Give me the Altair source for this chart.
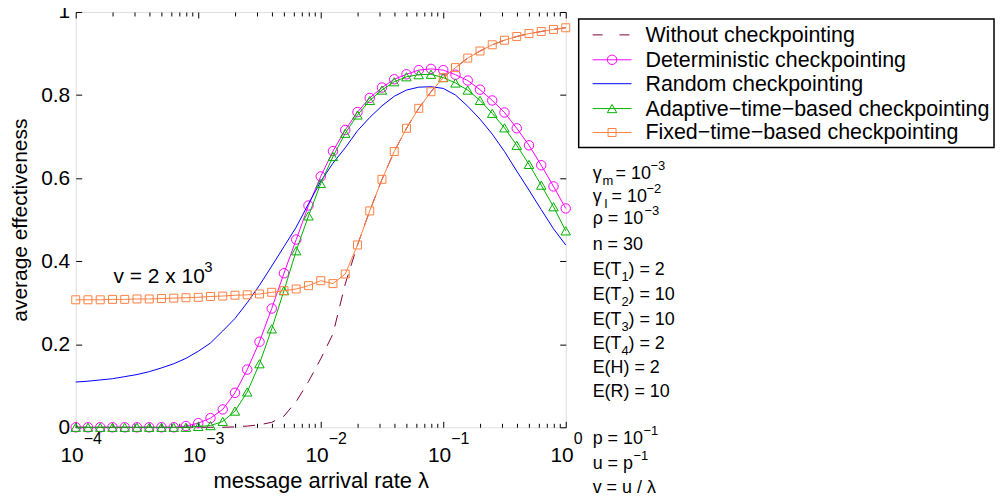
import altair as alt
import numpy as np
import pandas as pd

# ---------------- data ----------------
lam = np.logspace(-4, 0, 41)  # message arrival rate, 10 samples per decade

without = [0, 0, 0, 0, 0, 0, 0, 0, 0, 0, 0, 0, 0,
           0.001, 0.003, 0.006, 0.012, 0.027, 0.062, 0.110, 0.165, 0.225, 0.345,
           0.439, 0.521, 0.597, 0.664, 0.720, 0.768, 0.808, 0.842, 0.866, 0.889,
           0.906, 0.921, 0.932, 0.941, 0.948, 0.953, 0.958, 0.962]
deterministic = [0, 0, 0, 0, 0, 0, 0, 0, 0,
                 0.003, 0.010, 0.022, 0.043, 0.083, 0.139, 0.206, 0.286, 0.371, 0.452,
                 0.534, 0.604, 0.665, 0.716, 0.759, 0.793, 0.818, 0.838, 0.850, 0.860,
                 0.863, 0.860, 0.849, 0.835, 0.813, 0.787, 0.758, 0.720, 0.679, 0.631,
                 0.580, 0.527]
random_cp = [0.109, 0.111, 0.114, 0.117, 0.122, 0.127, 0.134, 0.143, 0.153, 0.166,
             0.183, 0.203, 0.232, 0.262, 0.300, 0.342, 0.388, 0.435, 0.482, 0.538,
             0.592, 0.636, 0.673, 0.714, 0.746, 0.774, 0.797, 0.812, 0.819, 0.820,
             0.816, 0.800, 0.773, 0.742, 0.706, 0.664, 0.617, 0.571, 0.524, 0.478,
             0.439]
adaptive = [0, 0, 0, 0, 0, 0, 0, 0, 0, 0, 0.002,
            0.004, 0.014, 0.039, 0.085, 0.153, 0.237, 0.329, 0.425, 0.509, 0.587,
            0.652, 0.708, 0.752, 0.787, 0.812, 0.832, 0.844, 0.849, 0.850, 0.842,
            0.829, 0.812, 0.787, 0.756, 0.721, 0.679, 0.633, 0.583, 0.531, 0.473]
fixed = [0.307, 0.307, 0.307, 0.308, 0.308, 0.309, 0.309, 0.310, 0.311, 0.312,
         0.313, 0.315, 0.316, 0.318, 0.319, 0.321, 0.325, 0.329, 0.333, 0.341,
         0.353, 0.346, 0.369, 0.439, 0.521, 0.597, 0.664, 0.720, 0.768, 0.808,
         0.842, 0.866, 0.889, 0.906, 0.921, 0.932, 0.941, 0.948, 0.953, 0.958,
         0.962]

series_names = ["Without checkpointing", "Deterministic checkpointing",
                "Random checkpointing", "Adaptive\u2212time\u2212based checkpointing",
                "Fixed\u2212time\u2212based checkpointing"]
series_vals = [without, deterministic, random_cp, adaptive, fixed]
series_colors = ["#800040", "#ff00ff", "#0000ff", "#00b000", "#ff8040"]
series_shapes = [None, "circle", None, "triangle-up", "square"]
series_sizes = [0, 90, 0, 90, 64]

decades = [1e-4, 1e-3, 1e-2, 1e-1, 1.0]
decade_exp = ["\u22124", "\u22123", "\u22122", "\u22121", "0"]
minor = [k * 10.0 ** d for d in range(-4, 0) for k in range(2, 10)]
y_ticks = [0, 0.2, 0.4, 0.6, 0.8, 1.0]

FONT = "Liberation Sans"
W, H = 492, 417
OX, OY = 76, 11  # plot origin in page pixels (used for decorations only)
TOTAL_W, TOTAL_H = 992, 492

# ---------------- scales ----------------
xs = alt.Scale(type="log", domain=[1e-4, 1], nice=False)
ys = alt.Scale(domain=[0, 1], nice=False, zero=False)

def ser_df(i):
    return pd.DataFrame({"lam": lam, "val": series_vals[i]})

base_df = ser_df(1)

def axis_layer(xaxis, yaxis):
    return alt.Chart(base_df).mark_point(opacity=0).encode(
        x=alt.X("lam:Q", scale=xs, axis=xaxis),
        y=alt.Y("val:Q", scale=ys, axis=yaxis),
    )

common = dict(domain=False, grid=False, tickColor="black", tickWidth=1)

ax_a = axis_layer(
    alt.Axis(orient="bottom", values=decades, tickSize=6, offset=-6, labels=False,
             title="message arrival rate \u03bb", titleFontSize=22, titleFontWeight="normal",
             titleFont=FONT, titleColor="black", titleX=W / 2, titleY=66,
             titleAlign="center", titleBaseline="alphabetic", **common),
    alt.Axis(orient="left", values=y_ticks, format="~g", tickSize=6, offset=-6,
             labelPadding=6, labelFontSize=21, labelFont=FONT, labelColor="black",
             labelFlush=False, labelOverlap=False,
             title="average effectiveness", titleFontSize=21, titleFontWeight="normal",
             titleFont=FONT, titleColor="black", titleX=-55, titleY=H / 2,
             titleAngle=270, titleAlign="center", titleBaseline="alphabetic", **common),
)
ax_b = axis_layer(
    alt.Axis(orient="bottom", values=minor, tickSize=4, offset=-4, labels=False,
             title=None, **common),
    alt.Axis(orient="right", values=y_ticks, tickSize=6, offset=-6, labels=False,
             title=None, **common),
)
ax_c = axis_layer(
    alt.Axis(orient="top", values=decades, tickSize=6, offset=-6, labels=False,
             title=None, **common),
    None,
)
ax_d = axis_layer(
    alt.Axis(orient="top", values=minor, tickSize=4, offset=-4, labels=False,
             title=None, **common),
    None,
)

# ---------------- data layers ----------------
layers = [ax_a, ax_b, ax_c, ax_d]
for i in range(5):
    d = ser_df(i)
    enc = dict(x=alt.X("lam:Q", scale=xs, axis=None), y=alt.Y("val:Q", scale=ys, axis=None))
    line_kw = dict(color=series_colors[i], strokeWidth=1)
    if i == 0:
        line_kw["strokeDash"] = [12, 9]
    layers.append(alt.Chart(d).mark_line(**line_kw).encode(**enc))
    if series_shapes[i]:
        layers.append(alt.Chart(d).mark_point(shape=series_shapes[i], filled=False,
                                              size=series_sizes[i], color=series_colors[i],
                                              strokeWidth=1, opacity=1).encode(**enc))

# ---------------- x tick labels 10^k ----------------
tick_df = pd.DataFrame({"lt": decades, "base": ["10"] * 5, "ex": decade_exp})
layers.append(alt.Chart(tick_df).mark_text(align="right", baseline="alphabetic", dx=8, dy=35,
                                           fontSize=21, font=FONT, color="black").encode(
    x=alt.X("lt:Q", scale=xs, axis=None), y=alt.value(H), text="base:N"))
layers.append(alt.Chart(tick_df).mark_text(align="left", baseline="alphabetic", dx=8, dy=17,
                                           fontSize=16, font=FONT, color="black").encode(
    x=alt.X("lt:Q", scale=xs, axis=None), y=alt.value(H), text="ex:N"))

# ---------------- text annotations with sub/superscripts ----------------
# (text, left x, baseline y, font size) in page pixels
ann = [
    ("\u03b3", 595, 179, 18), ("m", 605, 185, 13), ("= 10", 618, 179, 18), ("\u22123", 653, 170, 13),
    ("\u03b3", 595, 202, 18), ("l", 607, 208, 13), ("= 10", 614, 202, 18), ("\u22122", 649, 193, 13),
    ("\u03c1 = 10", 595, 224, 18), ("\u22123", 647, 215, 13),
    ("n = 30", 595, 250, 18),
    ("E(T", 595, 275, 18), ("1", 624, 281, 13), (") = 2", 631, 275, 18),
    ("E(T", 595, 300, 18), ("2", 624, 306, 13), (") = 10", 631, 300, 18),
    ("E(T", 595, 325, 18), ("3", 624, 331, 13), (") = 10", 631, 325, 18),
    ("E(T", 595, 349, 18), ("4", 624, 355, 13), (") = 2", 631, 349, 18),
    ("E(H) = 2", 595, 373, 18),
    ("E(R) = 10", 595, 398, 18),
    ("p = 10", 595, 445, 18), ("\u22121", 646, 436, 13),
    ("u = p", 595, 470, 18), ("\u22121", 636, 461, 13),
    ("v = u / \u03bb", 595, 494, 18),
    ("v = 2 x 10", 114, 283, 21), ("3", 205, 272, 15),
]
ann_df = pd.DataFrame({"t": [a[0] for a in ann],
                       "px": [a[1] - OX for a in ann],
                       "py": [a[2] - OY for a in ann],
                       "fs": [a[3] for a in ann]})
layers.append(alt.Chart(ann_df).mark_text(align="left", baseline="alphabetic", font=FONT,
                                          color="black").encode(
    x=alt.X("px:Q", scale=None, axis=None), y=alt.Y("py:Q", scale=None, axis=None),
    text="t:N", size=alt.Size("fs:Q", scale=None, legend=None)))

# ---------------- legend (drawn) ----------------
one = pd.DataFrame({"a": [0]})
layers.append(alt.Chart(one).mark_rect(fill="white", stroke="black", strokeWidth=1.5).encode(
    x=alt.value(581 - OX), x2=alt.value(998 - OX), y=alt.value(18 - OY), y2=alt.value(147 - OY)))
row_y = [34, 59, 83, 108, 132]
for i in range(5):
    ly = row_y[i] - OY
    kw = dict(color=series_colors[i], strokeWidth=1)
    if i == 0:
        kw["strokeDash"] = [10, 17]
    layers.append(alt.Chart(one).mark_rule(**kw).encode(
        x=alt.value(595 - OX), x2=alt.value(634 - OX), y=alt.value(ly)))
    if series_shapes[i]:
        layers.append(alt.Chart(one).mark_point(shape=series_shapes[i], filled=False,
                                                size=series_sizes[i], color=series_colors[i],
                                                strokeWidth=1, opacity=1).encode(
            x=alt.value(614.5 - OX), y=alt.value(ly)))
leg_df = pd.DataFrame({"t": series_names, "py": [y - OY + 7 for y in row_y]})
layers.append(alt.Chart(leg_df).mark_text(align="left", baseline="alphabetic", fontSize=21.5,
                                          font=FONT, color="black").encode(
    x=alt.value(648 - OX), y=alt.Y("py:Q", scale=None, axis=None), text="t:N"))

chart = alt.layer(*layers).resolve_axis(x="independent", y="independent").properties(
    width=W, height=H,
    padding={"left": OX - 8, "top": OY - 8, "right": TOTAL_W - (OX - 8) - W,
             "bottom": TOTAL_H - (OY - 8) - H},
    autosize=alt.AutoSizeParams(type="none"),
    background="white",
).configure_view(stroke="black", strokeWidth=1.5).configure(font=FONT)

chart.save("out.html", embed_options={"renderer": "svg", "actions": False})
